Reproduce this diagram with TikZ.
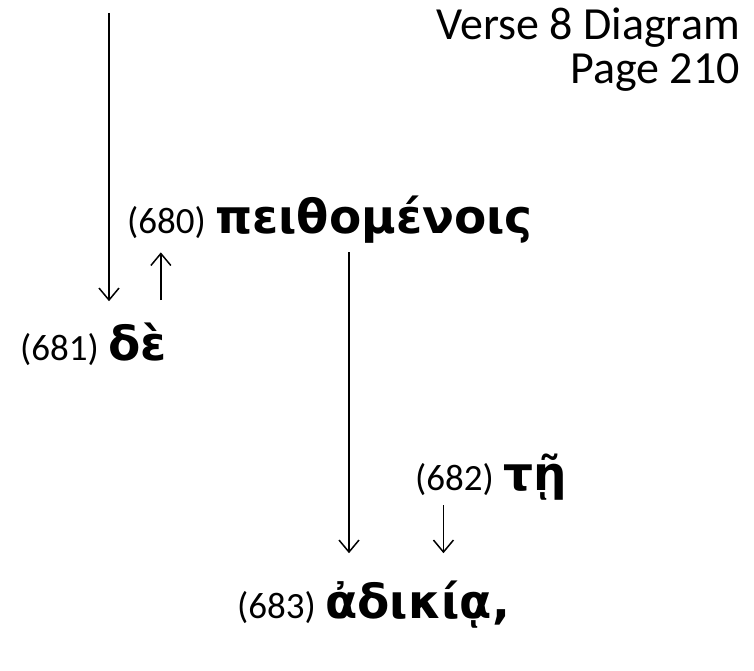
\documentclass[tikz,border=0pt]{standalone}
\usepackage{fontspec}
\setmainfont{Carlito}
\newfontfamily\greekfont{DejaVu Sans}
\usetikzlibrary{arrows.meta,positioning,calc}

\begin{document}
\begin{tikzpicture}[x=1pt,y=-1pt]
      \tikzset{
        nummer/.style={inner sep=0pt, font=\fontsize{37}{40}\selectfont},
        wort/.style={inner sep=0pt, font=\greekfont\bfseries\fontsize{47}{50}\selectfont},
        titel/.style={inner sep=0pt, font=\fontsize{46}{48}\selectfont},
        pfeil/.style={-{Straight Barb[length=12pt,width=20pt]}, line width=1.5pt}
      }
      \useasboundingbox (0,0) rectangle (754,671);

      \node[titel, anchor=base east] (titel1) at (740,40) {Verse 8 Diagram};
      \node[titel, anchor=base east] (titel2) at (740,84) {Page 210};

      \node[wort, anchor=base west] (w680) at (215,233) {πειθομένοις};
      \node[nummer, anchor=base east] (n680) at ([xshift=-9pt]w680.base west) {(680)};

      \node[wort, anchor=base west] (w681) at (108,360) {δὲ};
      \node[nummer, anchor=base east] (n681) at ([xshift=-9pt]w681.base west) {(681)};

      \node[wort, anchor=base west] (w682) at (503,490) {τῇ};
      \node[nummer, anchor=base east] (n682) at ([xshift=-9pt]w682.base west) {(682)};

      \node[wort, anchor=base west] (w683) at (325,618) {ἀδικίᾳ,};
      \node[nummer, anchor=base east] (n683) at ([xshift=-9pt]w683.base west) {(683)};

      \coordinate (oben) at (109,13);

      \draw[pfeil, shorten >=21pt] (oben) -- (oben |- w681.north);
      \draw[pfeil, shorten <=22pt, shorten >=14pt] ([xshift=-6pt]w681.north east) -- ([xshift=-6pt]w681.north east |- n680.south);
      \draw[pfeil, shorten <=9pt, shorten >=27pt] ([xshift=134pt]w680.south west) -- ([xshift=134pt]w680.south west |- w683.north);
      \draw[pfeil, shorten <=10pt, shorten >=27pt] ([xshift=-11pt]n682.south) -- ([xshift=-11pt]n682.south |- w683.north);

    \end{tikzpicture}
\end{document}
